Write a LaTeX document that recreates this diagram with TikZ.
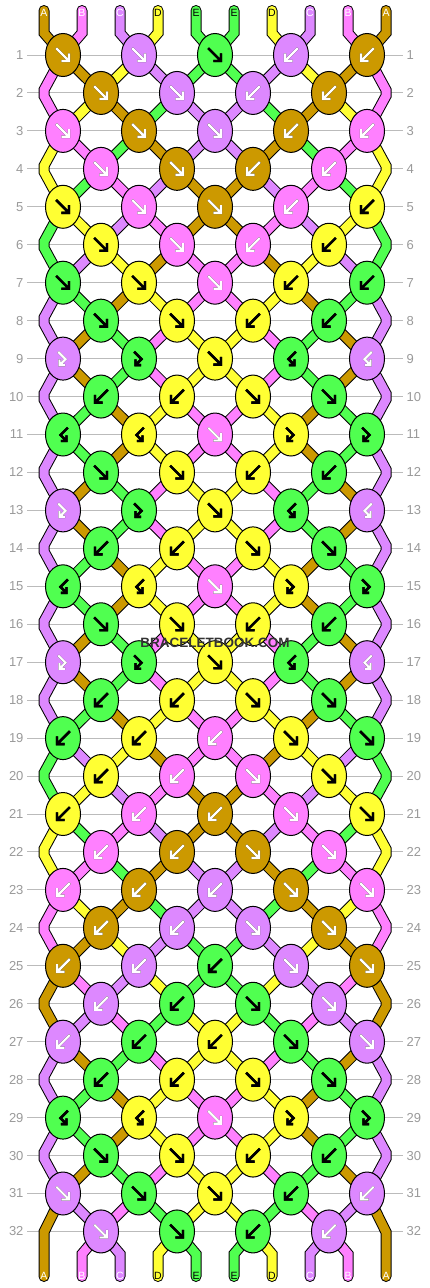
\documentclass[tikz,border=0pt]{standalone}
\usepackage{fontspec}
\setmainfont{Liberation Sans}
\usetikzlibrary{shapes.geometric}
\usetikzlibrary{calc}

\definecolor{strA}{HTML}{CC9900}
\definecolor{strB}{HTML}{FF80FF}
\definecolor{strC}{HTML}{DD88FF}
\definecolor{strD}{HTML}{FFFF33}
\definecolor{strE}{HTML}{50FF50}
\definecolor{rowgray}{HTML}{BBBBBB}
\definecolor{numgray}{HTML}{9A9A9A}
\definecolor{brandgray}{HTML}{333333}

% string colours after each row (row 0 = start)
\def\states{0/{A,B,C,D,E,E,D,C,B,A},
1/{B,A,D,C,E,E,C,D,A,B},
2/{B,D,A,E,C,C,E,A,D,B},
3/{D,B,E,A,C,C,A,E,B,D},
4/{D,E,B,C,A,A,C,B,E,D},
5/{E,D,C,B,A,A,B,C,D,E},
6/{E,C,D,A,B,B,A,D,C,E},
7/{C,E,A,D,B,B,D,A,E,C},
8/{C,A,E,B,D,D,B,E,A,C},
9/{C,A,E,B,D,D,B,E,A,C},
10/{C,E,A,D,B,B,D,A,E,C},
11/{C,E,A,D,B,B,D,A,E,C},
12/{C,A,E,B,D,D,B,E,A,C},
13/{C,A,E,B,D,D,B,E,A,C},
14/{C,E,A,D,B,B,D,A,E,C},
15/{C,E,A,D,B,B,D,A,E,C},
16/{C,A,E,B,D,D,B,E,A,C},
17/{C,A,E,B,D,D,B,E,A,C},
18/{C,E,A,D,B,B,D,A,E,C},
19/{E,C,D,A,B,B,A,D,C,E},
20/{E,D,C,B,A,A,B,C,D,E},
21/{D,E,B,C,A,A,C,B,E,D},
22/{D,B,E,A,C,C,A,E,B,D},
23/{B,D,A,E,C,C,E,A,D,B},
24/{B,A,D,C,E,E,C,D,A,B},
25/{A,B,C,D,E,E,D,C,B,A},
26/{A,C,B,E,D,D,E,B,C,A},
27/{C,A,E,B,D,D,B,E,A,C},
28/{C,E,A,D,B,B,D,A,E,C},
29/{C,E,A,D,B,B,D,A,E,C},
30/{C,A,E,B,D,D,B,E,A,C},
31/{A,C,B,E,D,D,E,B,C,A},
32/{A,B,C,D,E,E,D,C,B,A}}

% knots: colour/kind for each row
\def\knotrows{1/{A/f,C/f,E/f,C/b,A/b},
2/{A/f,C/f,C/b,A/b},
3/{B/f,A/f,C/f,A/b,B/b},
4/{B/f,A/f,A/b,B/b},
5/{D/f,B/f,A/f,B/b,D/b},
6/{D/f,B/f,B/b,D/b},
7/{E/f,D/f,B/f,D/b,E/b},
8/{E/f,D/f,D/b,E/b},
9/{C/fb,E/fb,D/f,E/bf,C/bf},
10/{E/b,D/b,D/f,E/f},
11/{E/bf,D/bf,B/f,D/fb,E/fb},
12/{E/f,D/f,D/b,E/b},
13/{C/fb,E/fb,D/f,E/bf,C/bf},
14/{E/b,D/b,D/f,E/f},
15/{E/bf,D/bf,B/f,D/fb,E/fb},
16/{E/f,D/f,D/b,E/b},
17/{C/fb,E/fb,D/f,E/bf,C/bf},
18/{E/b,D/b,D/f,E/f},
19/{E/b,D/b,B/b,D/f,E/f},
20/{D/b,B/b,B/f,D/f},
21/{D/b,B/b,A/b,B/f,D/f},
22/{B/b,A/b,A/f,B/f},
23/{B/b,A/b,C/b,A/f,B/f},
24/{A/b,C/b,C/f,A/f},
25/{A/b,C/b,E/b,C/f,A/f},
26/{C/b,E/b,E/f,C/f},
27/{C/b,E/b,D/b,E/f,C/f},
28/{E/b,D/b,D/f,E/f},
29/{E/bf,D/bf,B/f,D/fb,E/fb},
30/{E/f,D/f,D/b,E/b},
31/{C/f,E/f,D/f,E/b,C/b},
32/{C/f,E/f,E/b,C/b}}

\begin{document}
\begin{tikzpicture}[x=1pt,y=-1pt,
        band outline/.style={draw=black,line width=11pt,line cap=round},
        band colour/.style={draw=str#1,line width=9pt,line cap=round},
        knot/.style={ellipse,draw=black,line width=1pt,inner sep=0pt,
            minimum width=35pt,minimum height=43pt},
        ink A/.style={white}, ink B/.style={white}, ink C/.style={white},
        ink D/.style={black}, ink E/.style={black},
        under A/.style={black,line width=4.4pt},
        under B/.style={black,line width=4.4pt},
        under C/.style={black,line width=4.4pt},
        under D/.style={black,line width=2.4pt},
        under E/.style={black,line width=2.4pt},
        glyph/.style={line width=2.4pt,line cap=rect,line join=miter},
        arrow f/.pic={\draw[glyph,pic actions] (-6,-6) -- (5,5) (6,-0.5) -- (6,6) -- (-0.5,6);},
        arrow b/.pic={\draw[glyph,pic actions] (6,-6) -- (-5,5) (-6,-0.5) -- (-6,6) -- (0.5,6);},
        arrow fb/.pic={\draw[glyph,pic actions] (-4,-6) -- (2.5,0.5) -- (-3,6) (-3.5,2) -- (-3.5,6.5) -- (1,6.5);},
        arrow bf/.pic={\draw[glyph,pic actions] (4,-6) -- (-2.5,0.5) -- (3,6) (3.5,2) -- (3.5,6.5) -- (-1,6.5);},
        end label/.style={font=\fontsize{10.5}{10.5}\selectfont,inner sep=0pt},
        rownum/.style={numgray,font=\fontsize{13}{13}\selectfont},
        rowline/.style={rowgray,line width=1pt},
        brand/.style={brandgray,font=\fontsize{13.5}{13.5}\selectfont\bfseries},
    ]
        \useasboundingbox (0,0) rectangle (430,1288);
        \fill[white] (0,0) rectangle (430,1288);

        % knot places
        \foreach \row in {1,...,32} {
            \pgfmathsetmacro\yrow{17.05+37.95*\row}
            \ifodd\row
                \foreach \i in {1,...,5}
                    \coordinate (k-\row-\i) at ({63+76*(\i-1)},\yrow);
            \else
                \foreach \i in {1,...,4}
                    \coordinate (k-\row-\i) at ({101+76*(\i-1)},\yrow);
                \coordinate (eL-\row) at (44,\yrow);
                \coordinate (eR-\row) at (386,\yrow);
            \fi
        }
        \foreach \pos in {0,...,9} {
            \coordinate (top-\pos) at ({44+38*\pos},10.5);
            \coordinate (bot-\pos) at ({44+38*\pos},1276.5);
        }

        % row numbers
        \foreach \row in {1,...,32} {
            \pgfmathsetmacro\yrow{17.05+37.95*\row}
            \node[rownum,anchor=east] (num-l-\row) at (27,\yrow) {\row};
            \node[rownum,anchor=west] (num-r-\row) at (403,\yrow) {\row};
            \draw[rowline] (num-l-\row) -- (num-r-\row);
        }

        % strings
        \foreach \pass in {outline,colour}
        \foreach \row/\state in \states {
            \pgfmathtruncatemacro\nxt{\row+1}
            \pgfmathtruncatemacro\afternxt{\row+2}
            \foreach \col [count=\pos from 0] in \state {
                \pgfmathtruncatemacro\ka{isodd(\row) ? floor(\pos/2)+1 : floor((\pos-1)/2)+1}
                \pgfmathtruncatemacro\kb{isodd(\row) ? floor((\pos-1)/2)+1 : floor(\pos/2)+1}
                \ifnum\row=0
                    \draw[band \pass=\col] (top-\pos) -- ++(0,22.5) -- (k-1-\kb);
                \else\ifnum\row=32
                    \ifnum\pos>0 \ifnum\pos<9
                        \draw[band \pass=\col] (k-32-\ka) -- ($(bot-\pos)+(0,-22.5)$) -- (bot-\pos);
                    \fi\fi
                \else\ifnum\pos=0
                    \ifodd\row
                        \ifnum\row<31
                            \draw[band \pass=\col] (k-\row-1) -- ($(eL-\nxt)+(0,-3)$)
                                -- ($(eL-\nxt)+(0,3)$) -- (k-\afternxt-1);
                        \else
                            \draw[band \pass=\col] (k-31-1) -- ($(bot-0)+(0,-44.5)$) -- (bot-0);
                        \fi
                    \fi
                \else\ifnum\pos=9
                    \ifodd\row
                        \ifnum\row<31
                            \draw[band \pass=\col] (k-\row-5) -- ($(eR-\nxt)+(0,-3)$)
                                -- ($(eR-\nxt)+(0,3)$) -- (k-\afternxt-5);
                        \else
                            \draw[band \pass=\col] (k-31-5) -- ($(bot-9)+(0,-44.5)$) -- (bot-9);
                        \fi
                    \fi
                \else
                    \draw[band \pass=\col] (k-\row-\ka) -- (k-\nxt-\kb);
                \fi\fi\fi\fi
            }
        }

        % string ends
        \foreach \col [count=\pos from 0] in {A,B,C,D,E,E,D,C,B,A} {
            \node[end label,ink \col] (lab-top-\pos) at ({44+38*\pos},13) {\col};
            \node[end label,ink \col] (lab-bot-\pos) at ({44+38*\pos},1276) {\col};
        }

        % knots
        \foreach \row/\kk in \knotrows
        \foreach \col/\kind [count=\i] in \kk {
            \node[knot,fill=str\col] (knot-\row-\i) at (k-\row-\i) {};
            \pic[under \col] at (k-\row-\i) {arrow \kind};
            \pic[ink \col] at (k-\row-\i) {arrow \kind};
        }

        \node[brand] (brand) at (215,643) {BRACELETBOOK.COM};
    \end{tikzpicture}
\end{document}
